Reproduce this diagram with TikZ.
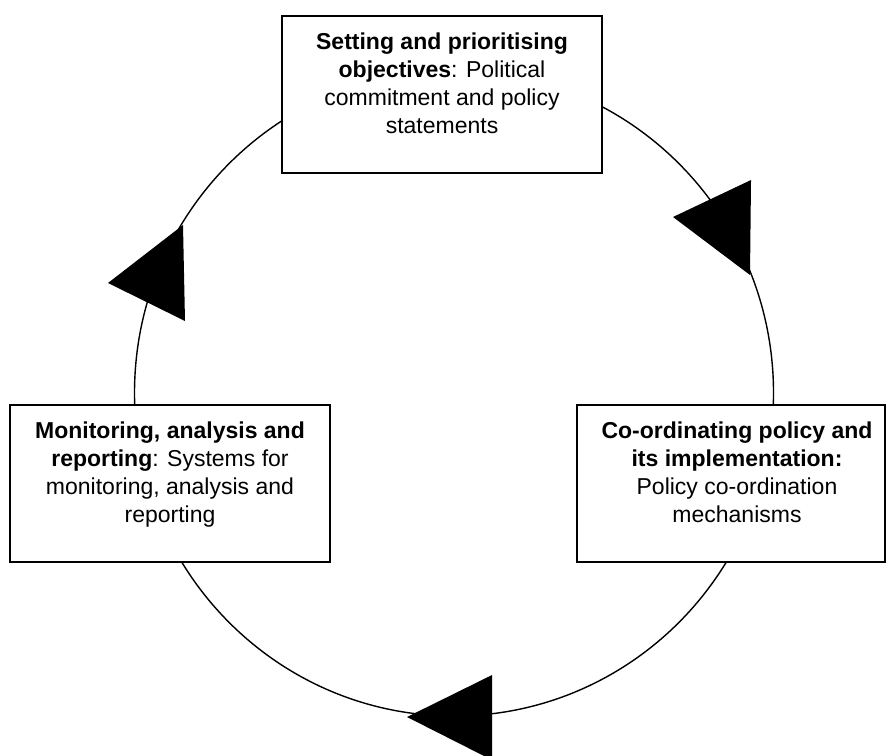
\documentclass[tikz,border=0pt]{standalone}
\usepackage{fontspec}
\setmainfont{Liberation Sans}
\usepackage{tikz}
\usetikzlibrary{positioning, calc}

\begin{document}
\begin{tikzpicture}[
    x=0.5pt, y=-0.5pt,
    stage/.style={rectangle, draw=black, line width=1pt, fill=white, minimum width=#1, minimum height=78.5pt, inner sep=0pt},
    stagetext/.style={anchor=north, align=center, inner sep=0pt, font=\fontsize{11.5}{14}\selectfont},
    cycle/.style={line width=0.7pt, color=black},
    tip/.style={fill=black}
]
\useasboundingbox (0,0) rectangle (886,755);

% Cycle
\draw[cycle] (454,393) ellipse [x radius=159.75pt, y radius=161.5pt];

% Arrow heads
\fill[tip] (673,217) -- (751,180) -- (750,275) -- cycle;
\fill[tip] (183,225) -- (108,283) -- (185,321) -- cycle;
\fill[tip] (492,675) -- (407,717) -- (492,760) -- cycle;

% Stages
\node[stage=160pt] (objectives) at (442,94.5) {};
\node[stage=160pt] (monitoring) at (170,483.5) {};
\node[stage=154pt] (coordination) at (731,483.5) {};

% Texts
\node[stagetext, yshift=-8.5pt] (objtext) at (objectives.north)
    {\textbf{Setting and prioritising}\\\textbf{objectives}: Political\\commitment and policy\\statements};
\node[stagetext, yshift=-8.5pt] (montext) at (monitoring.north)
    {\textbf{Monitoring, analysis and}\\\textbf{reporting}: Systems for\\monitoring, analysis and\\reporting};
\node[stagetext, yshift=-8.5pt, xshift=3pt] (coordtext) at (coordination.north)
    {\textbf{Co-ordinating policy and}\\\textbf{its implementation:}\\Policy co-ordination\\mechanisms};

\end{tikzpicture}
\end{document}
